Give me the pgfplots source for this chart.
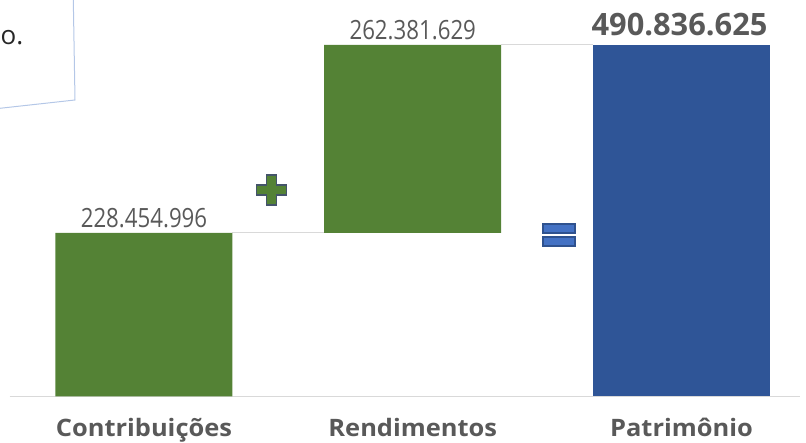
\documentclass[border=0pt]{standalone}
\usepackage{fontspec}
\setmainfont{Open Sans}
\newfontfamily\valfont[FakeStretch=0.84]{Open Sans}
\newfontfamily\catfont[FakeStretch=1.06]{Open Sans}
\usepackage{pgfplots}
\pgfplotsset{compat=1.18}
\definecolor{bargreen}{HTML}{548235}
\definecolor{barblue}{HTML}{2F5597}
\definecolor{txtgray}{HTML}{595959}
\definecolor{linegray}{HTML}{D9D9D9}
\definecolor{boxblue}{HTML}{B4C7E7}
\definecolor{plusedge}{HTML}{44546A}
\definecolor{eqfill}{HTML}{4472C4}
\definecolor{eqedge}{HTML}{2F528F}
\begin{document}
\begin{tikzpicture}[x=1pt,y=1pt]
\path[use as bounding box] (0,0) rectangle (806,443);
\begin{axis}[
  at={(9.6pt,46.5pt)}, anchor=south west,
  scale only axis, width=790.4pt, height=396.5pt,
  xmin=-0.5, xmax=2.441, ymin=0, ymax=553.67,
  axis y line=none, axis x line*=bottom,
  x axis line style={-, draw=linegray, line width=1.5pt},
  xtick={0,1,2},
  xticklabels={Contribuições,Rendimentos,Patrimônio},
  major tick length=0pt,
  xticklabel style={anchor=base, yshift=-40.2pt, text=txtgray,
    font=\catfont\fontsize{24}{24}\selectfont\bfseries},
  ybar stacked, bar width=177pt,
  clip=false,
]
\addplot[draw=none, fill=none] coordinates {(0,0) (1,228.454996) (2,0)};
\addplot[draw=none, fill=bargreen] coordinates {(0,228.454996) (1,262.381629) (2,0)};
\addplot[draw=none, fill=barblue] coordinates {(0,0) (1,0) (2,490.836625)};
\draw[linegray, line width=1pt] (axis cs:0.3293,228.454996) -- (axis cs:0.6707,228.454996);
\draw[linegray, line width=1pt] (axis cs:1.3293,490.836625) -- (axis cs:1.6707,490.836625);
\node[anchor=base, font=\valfont\fontsize{26.5}{26.5}\selectfont, text=txtgray, yshift=5.2pt, inner sep=0pt] at (axis cs:0,228.454996) {228.454.996};
\node[anchor=base, font=\valfont\fontsize{26.5}{26.5}\selectfont, text=txtgray, yshift=5.7pt, inner sep=0pt] at (axis cs:1,490.836625) {262.381.629};
\node[anchor=base, font=\fontsize{30.8}{30.8}\selectfont\bfseries, text=txtgray, yshift=9pt, inner sep=0pt, xshift=-2pt] at (axis cs:2,490.836625) {490.836.625};
\end{axis}
% plus sign
\draw[fill=bargreen, draw=plusedge, line width=1.5pt]
  (266.5,268) -- (276.5,268) -- (276.5,258) -- (286.5,258) -- (286.5,248) -- (276.5,248)
  -- (276.5,238) -- (266.5,238) -- (266.5,248) -- (256.5,248) -- (256.5,258) -- (266.5,258) -- cycle;
% equals sign
\draw[fill=eqfill, draw=eqedge, line width=1.2pt] (543,210) rectangle (575,219);
\draw[fill=eqfill, draw=eqedge, line width=1.2pt] (543,197) rectangle (575,206);
% text box fragment
\draw[boxblue, line width=1pt] (73.3,443) -- (75,343) -- (0,334.7);
\node[anchor=base west, inner sep=0pt, font=\fontsize{26}{26}\selectfont, text={black!85}] at (0.5,398) {o.};
\end{tikzpicture}
\end{document}
